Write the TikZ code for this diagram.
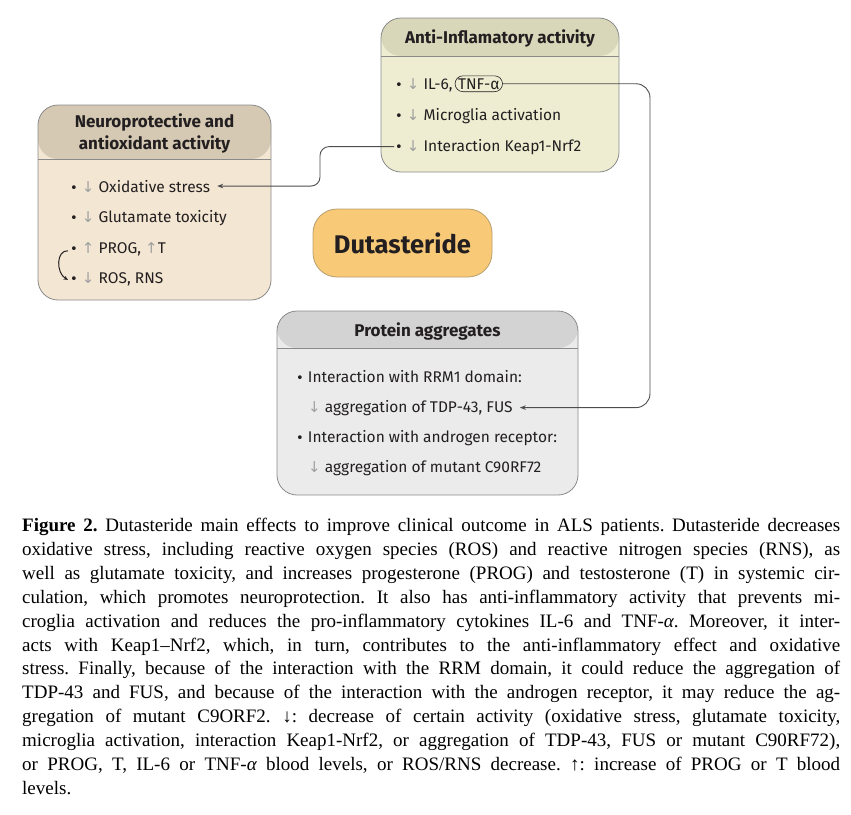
\documentclass[tikz,border=0pt]{standalone}
\usepackage{fontspec}
\setmainfont{Liberation Serif}
\newfontfamily\diafont{Fira Sans}
\newfontfamily\arrfont{DejaVu Sans}
\usetikzlibrary{arrows.meta}

\definecolor{antibody}{HTML}{EEEDD2}
\definecolor{antihead}{HTML}{D9D7B9}
\definecolor{neurobody}{HTML}{F3E6D3}
\definecolor{neurohead}{HTML}{D5C9B4}
\definecolor{protbody}{HTML}{EBEBEB}
\definecolor{prothead}{HTML}{D3D3D3}
\definecolor{dutfill}{HTML}{F8C977}
\definecolor{dutline}{HTML}{B89E6E}
\definecolor{boxline}{HTML}{8A8A8A}
\definecolor{connline}{HTML}{4D4D4D}
\definecolor{arrgray}{HTML}{A0A0A0}
\definecolor{ink}{HTML}{231F20}

\newcommand\dn{{\arrfont\color{arrgray}\fontsize{15}{16}\selectfont ↓}}
\newcommand\up{{\arrfont\color{arrgray}\fontsize{15}{16}\selectfont ↑}}
\newcommand\bul{{\arrfont\fontsize{13}{16}\selectfont •}}
\newcommand\capline[1]{\hbox to 818pt{#1}}

\tikzset{
  panel/.style={draw=boxline, line width=0.8pt, rounded corners=20pt, inner sep=0pt},
  header/.style 2 args={path picture={
      \fill[#1] (path picture bounding box.north west) rectangle ([yshift=-#2]path picture bounding box.north east);
      \draw[boxline, line width=0.8pt] ([yshift=-#2]path picture bounding box.north west) -- ([yshift=-#2]path picture bounding box.north east);}},
  headtext/.style={font=\diafont\bfseries\fontsize{17}{22}\selectfont, text=ink, align=center, inner sep=0pt},
  item/.style={font=\diafont\fontsize{15.5}{16}\selectfont, text=ink, anchor=base west, inner sep=1pt},
  conn/.style={draw=connline, line width=0.9pt},
  tip/.style={-{Stealth[length=6pt,width=4.5pt]}},
}

\begin{document}
\begin{tikzpicture}[x=1pt,y=-1pt]
\useasboundingbox (0,0) rectangle (851,814);

% panels
\node[panel, fill=antibody, header={antihead}{38pt}, minimum width=238pt, minimum height=154pt] (anti) at (500,95) {};
\node[panel, fill=neurobody, header={neurohead}{54pt}, minimum width=233pt, minimum height=195pt] (neuro) at (154.5,202.5) {};
\node[panel, fill=protbody, header={prothead}{37pt}, minimum width=301pt, minimum height=184pt] (prot) at (427.5,403) {};
\node[draw=dutline, line width=0.8pt, fill=dutfill, rounded corners=24pt, minimum width=179pt, minimum height=68pt,
      font=\diafont\bfseries\fontsize{25.5}{28}\selectfont, text=ink] (dut) at (402.5,243) {Dutasteride};

% headers
\node[headtext] (antiT) at (500,38) {Anti-Inflamatory activity};
\node[headtext] (neuroT) at (154.5,133) {Neuroprotective and\\antioxidant activity};
\node[headtext] (protT) at (427.5,331) {Protein aggregates};

% anti items
\node[item] (ilsix) at (394,89) {\bul{} \dn{} IL-6,};
\node[item, draw=ink, line width=0.6pt, rounded corners=8pt, inner xsep=3pt, inner ysep=2.5pt] (tnf) at ([xshift=1pt]ilsix.base east) {TNF-α};
\node[item] (micro) at (394,120) {\bul{} \dn{} Microglia activation};
\node[item] (keap) at (394,151) {\bul{} \dn{} Interaction Keap1-Nrf2};

% neuro items
\node[item] (oxi) at (69,192) {\bul{} \dn{} Oxidative stress};
\node[item] (glu) at (69,222) {\bul{} \dn{} Glutamate toxicity};
\node[item] (prog) at (69,253) {\bul{} \up{} PROG, \up{}T};
\node[item] (ros) at (69,283) {\bul{} \dn{} ROS, RNS};

% protein items
\node[item] (rrm) at (295,382) {\bul{} Interaction with RRM1 domain:};
\node[item] (tdp) at (307,412) {\dn{} aggregation of TDP-43, FUS};
\node[item] (andr) at (295,442) {\bul{} Interaction with androgen receptor:};
\node[item] (cnine) at (307,472) {\dn{} aggregation of mutant C90RF72};

% connectors
\coordinate (kx) at (320,0);
\coordinate (tx) at (650,0);
\draw[conn, tip, rounded corners=9pt] (keap.west) -- (keap.west -| kx) -- (kx |- oxi.east) -- ([xshift=6pt]oxi.east);
\draw[conn, tip, rounded corners=14pt] (tnf.east) -- (tnf.east -| tx) -- (tx |- tdp.east) -- ([xshift=6pt]tdp.east);
\draw[draw=ink, line width=1pt, -{Stealth[length=4.5pt,width=4pt]}] ([xshift=-1pt,yshift=-2pt]prog.west) .. controls (56,250) and (56,273) .. ([xshift=-1pt,yshift=-1pt]ros.west);

% caption
\node[anchor=north west, inner sep=0pt, font=\fontsize{19}{23.9}\selectfont, text=black] (caption) at (22,518) {\vbox{\frenchspacing\baselineskip=23.9pt
\capline{\textbf{Figure 2.} Dutasteride main effects to improve clinical outcome in ALS patients. Dutasteride decreases}
\capline{oxidative stress, including reactive oxygen species (ROS) and reactive nitrogen species (RNS), as}
\capline{well as glutamate toxicity, and increases progesterone (PROG) and testosterone (T) in systemic cir-}
\capline{culation, which promotes neuroprotection. It also has anti-inflammatory activity that prevents mi-}
\capline{croglia activation and reduces the pro-inflammatory cytokines IL-6 and TNF-{\itshape α}. Moreover, it inter-}
\capline{acts with Keap1–Nrf2, which, in turn, contributes to the anti-inflammatory effect and oxidative}
\capline{stress. Finally, because of the interaction with the RRM domain, it could reduce the aggregation of}
\capline{TDP-43 and FUS, and because of the interaction with the androgen receptor, it may reduce the ag-}
\capline{gregation of mutant C9ORF2. ↓: decrease of certain activity (oxidative stress, glutamate toxicity,}
\capline{microglia activation, interaction Keap1-Nrf2, or aggregation of TDP-43, FUS or mutant C90RF72),}
\capline{or PROG, T, IL-6 or TNF-{\itshape α} blood levels, or ROS/RNS decrease. ↑: increase of PROG or T blood}
\hbox{levels.}}};
\end{tikzpicture}
\end{document}
